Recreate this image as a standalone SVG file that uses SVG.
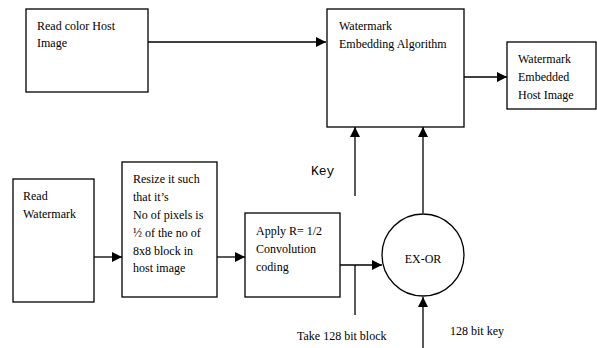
<svg xmlns="http://www.w3.org/2000/svg" width="597" height="348" viewBox="0 0 597 348">
<style>
.box{fill:#fff;stroke:#000;stroke-width:1.3}
.t{font-family:"Liberation Serif",serif;font-size:12px;fill:#000}
.ln{stroke:#000;stroke-width:1.3;fill:none}
</style>
<defs>
<marker id="ah" viewBox="0 0 10 10" refX="10" refY="5" markerWidth="10" markerHeight="10" markerUnits="userSpaceOnUse" orient="auto">
<path d="M0,0 L10,5 L0,10 Z" fill="#000"/>
</marker>
</defs>
<rect width="597" height="348" fill="#fff"/>
<g id="connectors">
<line class="ln" x1="148" y1="42" x2="326" y2="42" marker-end="url(#ah)"/>
<line class="ln" x1="464" y1="77" x2="507" y2="77" marker-end="url(#ah)"/>
<line class="ln" x1="355" y1="196" x2="355" y2="127" marker-end="url(#ah)"/>
<line class="ln" x1="423" y1="213" x2="423" y2="127" marker-end="url(#ah)"/>
<line class="ln" x1="94" y1="257" x2="122" y2="257" marker-end="url(#ah)"/>
<line class="ln" x1="217" y1="257" x2="245" y2="257" marker-end="url(#ah)"/>
<line class="ln" x1="340" y1="265" x2="382" y2="265" marker-end="url(#ah)"/>
<line class="ln" x1="355" y1="265" x2="355" y2="315"/>
<line class="ln" x1="423" y1="348" x2="423" y2="297" marker-end="url(#ah)"/>
</g>
<g id="read-host">
<rect class="box" x="26" y="9" width="122" height="83"/>
<text class="t" x="37" y="30">Read color Host</text>
<text class="t" x="37" y="47">Image</text>
</g>
<g id="embedding">
<rect class="box" x="327" y="9" width="137" height="118"/>
<text class="t" x="339" y="30">Watermark</text>
<text class="t" x="339" y="48">Embedding Algorithm</text>
</g>
<g id="output">
<rect class="box" x="507" y="42" width="89" height="67"/>
<text class="t" x="518" y="63">Watermark</text>
<text class="t" x="518" y="81">Embedded</text>
<text class="t" x="518" y="99">Host Image</text>
</g>
<g id="key-label">
<text x="311" y="175" style="font-family:'Liberation Mono',monospace;font-size:13px;fill:#000">Key</text>
</g>
<g id="read-watermark">
<rect class="box" x="13" y="179" width="81" height="123"/>
<text class="t" x="23" y="200">Read</text>
<text class="t" x="23" y="218">Watermark</text>
</g>
<g id="resize">
<rect class="box" x="122" y="162" width="95" height="135"/>
<text class="t" x="133" y="183">Resize it such</text>
<text class="t" x="133" y="201">that it’s</text>
<text class="t" x="133" y="219">No of pixels is</text>
<text class="t" x="133" y="237">½ of the no of</text>
<text class="t" x="133" y="255">8x8 block in</text>
<text class="t" x="133" y="272">host image</text>
</g>
<g id="convolution">
<rect class="box" x="245" y="213" width="95" height="84"/>
<text class="t" x="256" y="235">Apply R= 1/2</text>
<text class="t" x="256" y="253">Convolution</text>
<text class="t" x="256" y="271">coding</text>
</g>
<g id="exor">
<circle class="box" cx="423" cy="255" r="41"/>
<text class="t" x="423" y="263" text-anchor="middle">EX-OR</text>
</g>
<g id="labels">
<text class="t" x="297" y="340">Take 128 bit block</text>
<text class="t" x="450" y="335">128 bit key</text>
</g>
</svg>
